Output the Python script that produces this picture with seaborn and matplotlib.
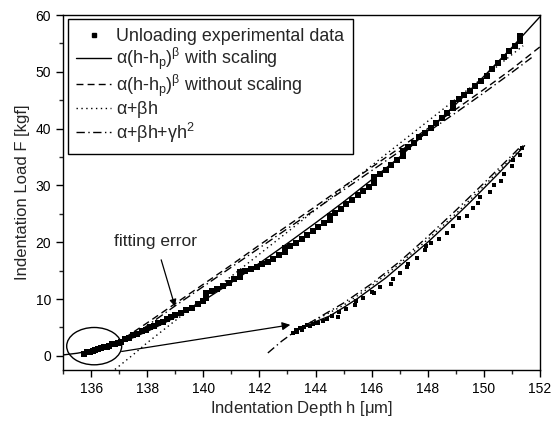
import matplotlib
matplotlib.use("Agg")
import matplotlib.pyplot as plt
from matplotlib.patches import Ellipse
from matplotlib.lines import Line2D
from matplotlib.ticker import MultipleLocator
import seaborn as sns
import pandas as pd

# ---------------- data ----------------
main_h = [135.75, 135.85, 135.95, 136.05, 136.15, 136.25, 136.35, 136.45, 136.55, 136.65,
          136.75, 136.85, 136.95, 137.05, 137.2, 137.35, 137.5, 137.65, 137.8, 137.95,
          138.1, 138.25, 138.4, 138.55, 138.7, 138.85, 139.0, 139.2, 139.4, 139.6,
          139.8, 140.0, 140.1, 140.1, 140.3, 140.5, 140.7, 140.9, 141.1, 141.3,
          141.3, 141.5, 141.7, 141.9, 142.1, 142.3, 142.5, 142.7, 142.9, 142.9,
          143.1, 143.3, 143.5, 143.7, 143.9, 144.1, 144.3, 144.5, 144.5, 144.7,
          144.9, 145.1, 145.3, 145.5, 145.7, 145.9, 146.1, 146.1, 146.3, 146.5,
          146.7, 146.9, 147.1, 147.1, 147.3, 147.5, 147.7, 147.9, 148.1, 148.3,
          148.5, 148.7, 148.9, 148.9, 149.1, 149.3, 149.5, 149.7, 149.9, 150.1,
          150.3, 150.5, 150.7, 150.9, 151.1, 151.3, 151.3]
main_F = [0.4, 0.6, 0.7, 0.9, 1.0, 1.2, 1.3, 1.5, 1.6, 1.8,
          2.0, 2.1, 2.3, 2.5, 2.9, 3.2, 3.6, 3.9, 4.3, 4.6,
          5.0, 5.3, 5.7, 6.0, 6.4, 6.8, 7.1, 7.6, 8.0, 8.5,
          9.1, 9.6, 10.2, 11.0, 11.4, 11.8, 12.3, 12.9, 13.5, 13.9,
          14.7, 15.0, 15.3, 15.7, 16.2, 16.6, 17.0, 17.7, 18.2, 19.0,
          19.4, 19.9, 20.5, 21.2, 21.9, 22.6, 23.3, 23.9, 24.6, 25.2,
          25.9, 26.7, 27.5, 28.3, 29.1, 29.8, 30.5, 31.4, 32.0, 32.8,
          33.6, 34.4, 35.1, 36.0, 36.8, 37.5, 38.5, 39.3, 40.1, 41.0,
          41.9, 42.8, 43.6, 44.5, 45.2, 46.0, 46.7, 47.5, 48.3, 49.3,
          50.5, 51.6, 52.6, 53.6, 54.6, 55.4, 56.3]

inset_h = [143.2, 143.3, 143.35, 143.45, 143.5, 143.6, 143.7, 143.8, 143.9, 144.0,
           144.1, 144.25, 144.4, 144.6, 144.8, 144.85, 145.1, 145.4, 145.45, 145.7,
           146.0, 146.1, 146.3, 146.7, 146.75, 147.0, 147.25, 147.3, 147.6, 147.9,
           147.95, 148.1, 148.4, 148.7, 148.9, 149.1, 149.4, 149.6, 149.8, 149.85,
           150.2, 150.35, 150.6, 150.7, 151.0, 151.05, 151.3, 151.35]
inset_F = [4.0, 4.6, 4.2, 4.9, 4.5, 5.0, 5.4, 5.2, 5.6, 5.7,
           5.8, 6.2, 6.4, 7.0, 6.9, 7.7, 8.3, 8.9, 9.6, 10.2,
           11.3, 11.0, 12.2, 12.7, 13.5, 14.6, 15.6, 16.2, 17.2, 18.6,
           19.3, 19.8, 20.6, 21.7, 22.9, 24.3, 24.6, 26.0, 26.9, 27.9,
           28.8, 30.0, 30.8, 32.0, 33.4, 34.5, 35.4, 36.5]

solid_main_h = [135.0, 135.5, 136.0, 136.5, 137.0, 137.5, 138.0, 138.5, 139.0, 139.5, 140.0,
                141.0, 142.0, 143.0, 144.0, 145.0, 146.0, 147.0, 148.0, 149.0, 150.0, 151.0, 152.0]
solid_main_F = [0.15, 0.45, 0.9, 1.5, 2.3, 3.2, 4.3, 5.5, 6.8, 8.2, 9.7,
                12.9, 16.3, 19.8, 23.4, 27.1, 31.0, 35.0, 39.6, 44.3, 49.2, 54.3, 59.7]

dashed_main_h = [136.5, 137.0, 138.0, 139.0, 140.0, 141.0, 142.0, 143.0, 144.0, 145.0,
                 146.0, 147.0, 148.0, 149.0, 150.0, 151.0, 152.0]
dashed_main_F = [1.3, 2.5, 5.8, 9.2, 12.6, 16.0, 19.5, 22.9, 26.3, 29.8,
                 33.2, 36.6, 40.0, 43.4, 46.9, 50.5, 54.4]

dotted_main_h = [136.85, 137.5, 138.0, 139.0, 140.0, 142.0, 144.0, 146.0, 148.0, 150.0, 151.4]
dotted_main_F = [-2.4, 0.2, 2.3, 6.2, 10.1, 17.9, 25.7, 33.5, 41.3, 49.1, 54.6]

dashdot_main_h = [136.8, 137.5, 138.0, 139.0, 140.0, 141.0, 142.0, 143.0, 144.0, 145.0,
                  146.0, 147.0, 148.0, 149.0, 150.0, 151.0, 151.7]
dashdot_main_F = [1.8, 3.5, 5.3, 8.8, 12.2, 15.6, 19.0, 22.4, 25.8, 29.2,
                  32.6, 36.0, 39.4, 42.8, 46.3, 49.9, 52.5]

solid_ins_h = [143.4, 144.0, 144.5, 145.0, 145.5, 146.0, 146.5, 147.0, 147.5, 148.0,
               148.5, 149.0, 149.5, 150.0, 150.5, 151.0, 151.45]
solid_ins_F = [4.6, 6.0, 7.0, 8.5, 10.1, 11.9, 13.7, 15.8, 17.9, 20.0,
               22.3, 24.6, 27.0, 29.5, 32.0, 34.6, 37.0]

dotted_ins_h = [143.5, 144.0, 145.0, 146.0, 147.0, 148.0, 149.0, 150.0, 151.0, 151.4]
dotted_ins_F = [5.1, 6.3, 8.9, 12.3, 16.2, 20.5, 25.0, 29.9, 34.9, 37.0]

dashdot_ins_h = [142.3, 142.8, 143.3, 144.0, 145.0, 146.0, 147.0, 148.0, 149.0, 150.0, 151.0, 151.3]
dashdot_ins_F = [0.5, 2.6, 4.4, 6.4, 9.3, 12.7, 16.6, 21.0, 25.6, 30.4, 35.3, 36.8]

legend_labels = ["Unloading experimental data",
                 r"$\alpha$(h-h$_\mathregular{p}$)$^\beta$ with scaling",
                 r"$\alpha$(h-h$_\mathregular{p}$)$^\beta$ without scaling",
                 r"$\alpha$+$\beta$h",
                 r"$\alpha$+$\beta$h+$\gamma$h$^\mathregular{2}$"]

# ---------------- plotting ----------------
sns.set_theme(style="ticks")
plt.rcParams['font.family'] = ['Liberation Sans', 'DejaVu Sans']
plt.rcParams['mathtext.fontset'] = 'custom'
plt.rcParams['mathtext.rm'] = 'Liberation Sans'
plt.rcParams['mathtext.it'] = 'Liberation Sans'
plt.rcParams['mathtext.bf'] = 'Liberation Sans:bold'

fig, ax = plt.subplots(figsize=(5.53, 4.23), dpi=100)
fig.subplots_adjust(left=0.114, right=0.9765, top=0.9645, bottom=0.1253)

lw = 1.0
def line(h, F, ls):
    sns.lineplot(x=h, y=F, ax=ax, color="black", lw=lw, linestyle=ls,
                 sort=False, estimator=None, legend=False)

line(solid_main_h, solid_main_F, "-")
line(dashed_main_h, dashed_main_F, (0, (5, 3)))
line(dotted_main_h, dotted_main_F, (0, (1, 2.5)))
line(dashdot_main_h, dashdot_main_F, (0, (6, 2.5, 1, 2.5)))
line(solid_ins_h, solid_ins_F, "-")
line(dotted_ins_h, dotted_ins_F, (0, (1, 2.5)))
line(dashdot_ins_h, dashdot_ins_F, (0, (6, 2.5, 1, 2.5)))

sns.scatterplot(x=main_h, y=main_F, ax=ax, marker="s", s=18, color="black",
                edgecolor="black", linewidth=0, legend=False, zorder=5)
sns.scatterplot(x=inset_h, y=inset_F, ax=ax, marker="s", s=7, color="black",
                edgecolor="black", linewidth=0, legend=False, zorder=5)

# circle and arrows
ax.add_patch(Ellipse((136.11, 1.7), 1.96, 6.57, fill=False, ec="black", lw=1.0, zorder=6))
ax.annotate("", xy=(143.1, 5.45), xytext=(137.09, 0.76),
            arrowprops=dict(arrowstyle="-|>", color="black", lw=0.9,
                            mutation_scale=12, shrinkA=0, shrinkB=0))
ax.annotate("fitting error", xy=(138.99, 8.7), xytext=(138.3, 20.2),
            ha="center", va="center", fontsize=12.5,
            arrowprops=dict(arrowstyle="-|>", color="black", lw=0.9,
                            mutation_scale=10, shrinkA=6, shrinkB=0))

ax.set_xlim(135, 152)
ax.set_ylim(-2.5, 60)
ax.xaxis.set_major_locator(MultipleLocator(2))
ax.xaxis.set_minor_locator(MultipleLocator(1))
ax.yaxis.set_major_locator(MultipleLocator(10))
ax.yaxis.set_minor_locator(MultipleLocator(5))
ax.tick_params(which="major", direction="out", length=5, width=1, labelsize=10, colors="black")
ax.tick_params(which="minor", direction="out", length=3, width=1)
ax.tick_params(top=False, right=False, which="both")
for s in ax.spines.values():
    s.set_visible(True)
    s.set_color("black")
    s.set_linewidth(1.0)

ax.set_xlabel(r"Indentation Depth h [$\mathregular{\mu}$m]", fontsize=12, labelpad=2)
ax.set_ylabel("Indentation Load F [kgf]", fontsize=12, labelpad=4)

handles = [Line2D([], [], ls="none", marker="s", ms=3.5, color="black"),
           Line2D([], [], ls="-", lw=lw, color="black"),
           Line2D([], [], ls=(0, (5, 3)), lw=lw, color="black"),
           Line2D([], [], ls=(0, (1, 2.5)), lw=lw, color="black"),
           Line2D([], [], ls=(0, (6, 2.5, 1, 2.5)), lw=lw, color="black")]
leg = ax.legend(handles, legend_labels, loc="upper left", bbox_to_anchor=(0, 1),
                borderaxespad=0.25, fontsize=12.9, frameon=True, fancybox=False,
                edgecolor="black", framealpha=1, handlelength=1.9, handletextpad=0.3,
                labelspacing=0.02, borderpad=0.5)
leg.get_frame().set_linewidth(1.0)

fig.savefig("out.png", dpi=100)
